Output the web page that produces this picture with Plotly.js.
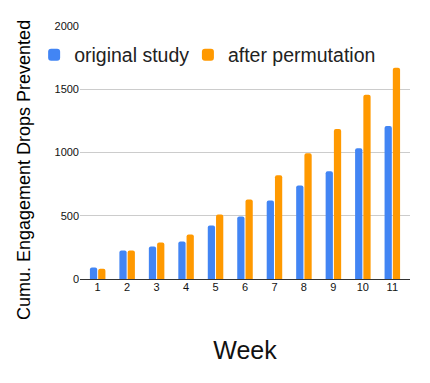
<!DOCTYPE html>
<html>
<head>
<meta charset="utf-8">
<script src="https://cdn.plot.ly/plotly-3.0.1.min.js"></script>
<style>
  body { margin: 0; background: #fff; }
  #chart { width: 430px; height: 383px; }
</style>
</head>
<body>
<div id="chart"></div>
<script>
// weeks and cumulative drops prevented
var weeks = ["1", "2", "3", "4", "5", "6", "7", "8", "9", "10", "11"];
var originalStudy = [90, 225, 256, 296, 423, 494, 621, 740, 851, 1034, 1210];
var afterPermutation = [82, 225, 288, 352, 510, 629, 820, 994, 1185, 1456, 1670];
var yTicks = [0, 500, 1000, 1500, 2000];

var traceOrig = {
  x: weeks,
  y: originalStudy,
  name: "original study",
  type: "bar",
  legend: "legend",
  marker: { color: "#4285F4", cornerradius: 2 }
};
var tracePerm = {
  x: weeks,
  y: afterPermutation,
  name: "after permutation",
  type: "bar",
  legend: "legend2",
  marker: { color: "#FF9900", cornerradius: 2 }
};

var data = [traceOrig, tracePerm];

var legendFont = { size: 19.5, color: "#222" };

var layout = {
  width: 430,
  height: 383,
  margin: { l: 80, r: 20, t: 26, b: 104, autoexpand: false },
  paper_bgcolor: "#fff",
  plot_bgcolor: "#fff",
  font: { family: "Liberation Sans, Arial, sans-serif", color: "#222" },
  barmode: "group",
  bargap: 0.44,
  bargroupgap: 0.12,
  showlegend: true,
  legend: {
    x: -0.139, y: 0.885, xanchor: "left", yanchor: "middle",
    font: legendFont, itemwidth: 30, bgcolor: "rgba(0,0,0,0)"
  },
  legend2: {
    x: 0.327, y: 0.885, xanchor: "left", yanchor: "middle",
    font: legendFont, itemwidth: 30, bgcolor: "rgba(0,0,0,0)"
  },
  xaxis: {
    type: "category",
    range: [-0.6, 10.6],
    showgrid: false,
    ticks: "",
    tickfont: { size: 11, color: "#111" },
    title: { text: "Week", font: { size: 25, color: "#111" }, standoff: 49 }
  },
  yaxis: {
    range: [0, 2000],
    tickvals: yTicks,
    gridcolor: "#cccccc",
    zeroline: true,
    zerolinecolor: "#333",
    zerolinewidth: 1.3,
    tickfont: { size: 11, color: "#111" },
    ticks: "",
    ticklen: 0
  },
  annotations: [{
    text: "Cumu. Engagement Drops Prevented",
    xref: "paper", yref: "paper",
    x: -0.168, y: 0.429,
    xanchor: "center", yanchor: "middle",
    textangle: -90,
    showarrow: false,
    font: { size: 18, color: "#000" }
  }]
};

Plotly.newPlot("chart", data, layout, { displayModeBar: false });
</script>
</body>
</html>
